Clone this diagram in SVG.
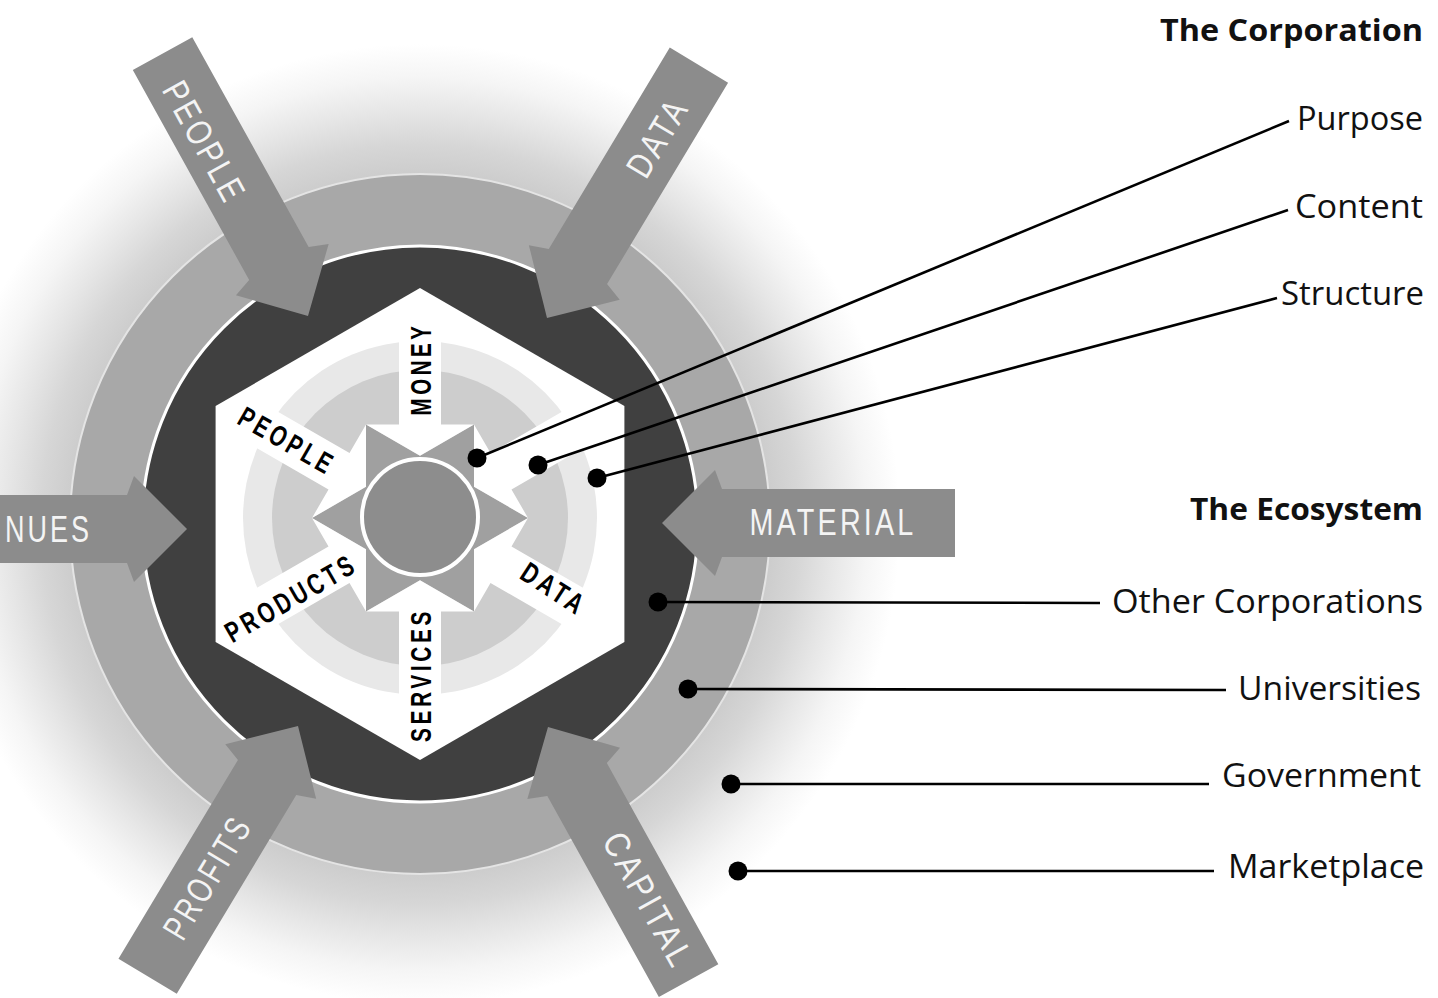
<svg xmlns="http://www.w3.org/2000/svg" width="1438" height="998" viewBox="0 0 1438 998">
<defs>
<radialGradient id="halo" gradientUnits="userSpaceOnUse" cx="420" cy="524" r="480">
<stop offset="0.72" stop-color="#cbcbcb"/>
<stop offset="0.79" stop-color="#d6d6d6"/>
<stop offset="0.86" stop-color="#e6e6e6"/>
<stop offset="0.93" stop-color="#f5f5f5"/>
<stop offset="1" stop-color="#ffffff"/>
</radialGradient>
</defs>
<style>
.oa{fill:#8c8c8c}
.ol{fill:#f4f4f4;font-family:"Liberation Sans",Arial,sans-serif;font-size:36px;text-anchor:middle;letter-spacing:4px}
.ia{fill:#ffffff}
.il{fill:#000000;font-family:"Liberation Sans",Arial,sans-serif;font-weight:bold;font-size:29px;text-anchor:middle;letter-spacing:5px}
.lead{stroke:#000000;stroke-width:2.6;fill:none}
.dot{fill:#000000}
.t{font-family:"Open Sans","Liberation Sans",sans-serif;font-size:33px;fill:#111111;text-anchor:end}
.h{font-weight:bold;font-size:31px}
</style>
<rect width="1438" height="998" fill="#ffffff"/>
<g id="ecosystem-rings">
<circle cx="420" cy="524" r="480" fill="url(#halo)"/>
<circle cx="420" cy="524" r="350" fill="#a8a8a8" stroke="#e4e4e4" stroke-width="2"/>
<circle cx="420" cy="524" r="278" fill="#404040" stroke="#ffffff" stroke-width="3"/>
</g>
<g id="corporation">
<polygon points="420,288 624.4,406 624.4,642 420,760 215.6,642 215.6,406" fill="#ffffff"/>
<g transform="translate(420,518)">
<circle r="177" fill="#e8e8e8"/>
<circle r="148" fill="#cdcdcd"/>
<polygon points="108,0 54,31.18 54,93.53 0,62.35 -54,93.53 -54,31.18 -108,0 -54,-31.18 -54,-93.53 0,-62.35 54,-93.53 54,-31.18" fill="#a0a0a0"/>
</g>
</g>
<g id="inner-arrows" transform="translate(420,518)">
<polygon class="ia" transform="rotate(-90)" points="62.35,0 93.53,54 93.53,21 205,21 205,-21 93.53,-21 93.53,-54"/>
<polygon class="ia" transform="rotate(-150)" points="62.35,0 93.53,54 93.53,21 205,21 205,-21 93.53,-21 93.53,-54"/>
<polygon class="ia" transform="rotate(150)" points="62.35,0 93.53,54 93.53,21 205,21 205,-21 93.53,-21 93.53,-54"/>
<polygon class="ia" transform="rotate(90)" points="62.35,0 93.53,54 93.53,21 205,21 205,-21 93.53,-21 93.53,-54"/>
<polygon class="ia" transform="rotate(30)" points="62.35,0 93.53,54 93.53,21 205,21 205,-21 93.53,-21 93.53,-54"/>
<polygon class="ia" transform="rotate(-30)" points="62.35,0 93.53,54 93.53,21 205,21 205,-21 93.53,-21 93.53,-54"/>
</g>
<g id="core">
<circle cx="420" cy="517" r="58" fill="#8d8d8d" stroke="#ffffff" stroke-width="4"/>
</g>
<g id="inner-labels">
<text class="il" transform="translate(421,369) rotate(-90)" y="10" textLength="93" lengthAdjust="spacingAndGlyphs">MONEY</text>
<text class="il" transform="translate(287,441) rotate(30)" y="10" textLength="107" lengthAdjust="spacingAndGlyphs">PEOPLE</text>
<text class="il" transform="translate(291,598) rotate(-30)" y="10" textLength="147" lengthAdjust="spacingAndGlyphs">PRODUCTS</text>
<text class="il" transform="translate(421,675) rotate(-90)" y="10" textLength="134" lengthAdjust="spacingAndGlyphs">SERVICES</text>
<text class="il" transform="translate(554,589) rotate(33)" y="10" textLength="72" lengthAdjust="spacingAndGlyphs">DATA</text>
</g>
<g id="arrow-people">
<path class="oa" transform="translate(308,316) rotate(-119)" d="M0,0 L53,-53 L60,-34 L300,-34 L300,34 L60,34 L53,53 Z"/>
<text class="ol" transform="translate(205,142) rotate(61)" y="13" textLength="134" lengthAdjust="spacingAndGlyphs">PEOPLE</text>
</g>
<g id="arrow-data">
<path class="oa" transform="translate(547,318) rotate(-59)" d="M0,0 L53,-53 L60,-34 L295,-34 L295,34 L60,34 L53,53 Z"/>
<text class="ol" transform="translate(657,137) rotate(-59)" y="13" textLength="86" lengthAdjust="spacingAndGlyphs">DATA</text>
</g>
<g id="arrow-material">
<path class="oa" transform="translate(662,523)" d="M0,0 L53,-53 L60,-34 L293,-34 L293,34 L60,34 L53,53 Z"/>
<text class="ol" transform="translate(833,522)" y="13" textLength="167" lengthAdjust="spacingAndGlyphs">MATERIAL</text>
</g>
<g id="arrow-capital">
<path class="oa" transform="translate(548,727) rotate(61)" d="M0,0 L53,-53 L60,-34 L290,-34 L290,34 L60,34 L53,53 Z"/>
<text class="ol" transform="translate(649,900) rotate(61)" y="13" textLength="150" lengthAdjust="spacingAndGlyphs">CAPITAL</text>
</g>
<g id="arrow-profits">
<path class="oa" transform="translate(298,726) rotate(121)" d="M0,0 L53,-53 L60,-34 L292,-34 L292,34 L60,34 L53,53 Z"/>
<text class="ol" transform="translate(207,877) rotate(-59)" y="13" textLength="137" lengthAdjust="spacingAndGlyphs">PROFITS</text>
</g>
<g id="arrow-revenues">
<path class="oa" transform="translate(187,529) rotate(180)" d="M0,0 L53,-53 L60,-34 L200,-34 L200,34 L60,34 L53,53 Z"/>
<text class="ol" x="5" y="542" style="text-anchor:start" textLength="87" lengthAdjust="spacingAndGlyphs">NUES</text>
</g>
<g id="connectors">
<line class="lead" x1="477" y1="458" x2="1289" y2="121"/>
<line class="lead" x1="538" y1="465" x2="1288" y2="210"/>
<line class="lead" x1="597" y1="478" x2="1277" y2="298"/>
<line class="lead" x1="658" y1="602" x2="1100" y2="603"/>
<line class="lead" x1="688" y1="689" x2="1226" y2="690"/>
<line class="lead" x1="731" y1="784" x2="1209" y2="784"/>
<line class="lead" x1="738" y1="871" x2="1214" y2="871"/>
<circle class="dot" cx="477" cy="458" r="9.5"/>
<circle class="dot" cx="538" cy="465" r="9.5"/>
<circle class="dot" cx="597" cy="478" r="9.5"/>
<circle class="dot" cx="658" cy="602" r="9.5"/>
<circle class="dot" cx="688" cy="689" r="9.5"/>
<circle class="dot" cx="731" cy="784" r="9.5"/>
<circle class="dot" cx="738" cy="871" r="9.5"/>
</g>
<g id="legend-corporation">
<text class="t h" x="1423" y="41" textLength="263" lengthAdjust="spacingAndGlyphs">The Corporation</text>
<text class="t" x="1423" y="130" textLength="126" lengthAdjust="spacingAndGlyphs">Purpose</text>
<text class="t" x="1423" y="218" textLength="128" lengthAdjust="spacingAndGlyphs">Content</text>
<text class="t" x="1424" y="305" textLength="143" lengthAdjust="spacingAndGlyphs">Structure</text>
</g>
<g id="legend-ecosystem">
<text class="t h" x="1423" y="520" textLength="233" lengthAdjust="spacingAndGlyphs">The Ecosystem</text>
<text class="t" x="1423" y="613" textLength="311" lengthAdjust="spacingAndGlyphs">Other Corporations</text>
<text class="t" x="1421" y="700" textLength="183" lengthAdjust="spacingAndGlyphs">Universities</text>
<text class="t" x="1421" y="787" textLength="199" lengthAdjust="spacingAndGlyphs">Government</text>
<text class="t" x="1424" y="878" textLength="196" lengthAdjust="spacingAndGlyphs">Marketplace</text>
</g>
</svg>
